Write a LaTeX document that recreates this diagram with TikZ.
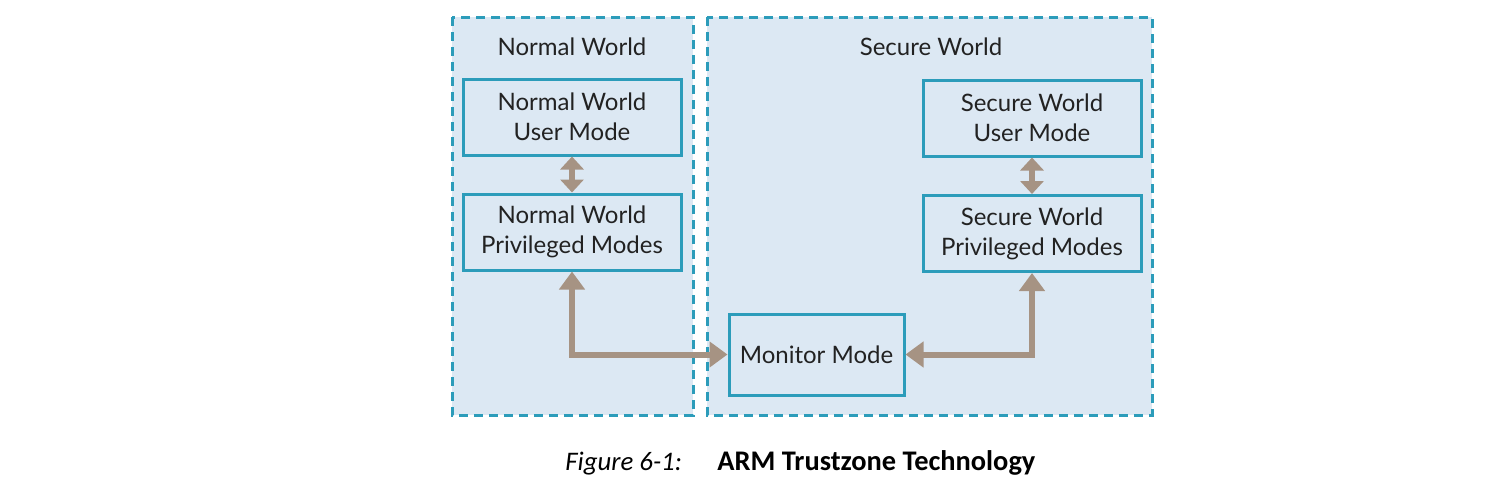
\documentclass[tikz,border=0pt]{standalone}
\usepackage{fontspec}
\setmainfont{Lato}
\newfontfamily\capfont{Carlito}
\usetikzlibrary{arrows.meta}
\definecolor{bgblue}{HTML}{DCE8F3}
\definecolor{teal}{HTML}{2C9CBA}
\definecolor{arrowc}{HTML}{A69383}
\definecolor{txt}{HTML}{222222}
\tikzset{
  world/.style={draw=teal, fill=bgblue, line width=1.5pt, dash pattern=on 4.5pt off 3pt},
  modebox/.style={draw=teal, fill=bgblue, line width=1.5pt, text=txt, align=center,
    font=\fontsize{12}{15}\selectfont, minimum width=109pt, minimum height=38pt, inner sep=0pt},
  worldlabel/.style={text=txt, font=\fontsize{12}{14}\selectfont, inner sep=0pt},
  conn/.style={draw=arrowc, line width=3pt, {Triangle[width=12.5pt,length=9pt]}-{Triangle[width=12.5pt,length=9pt]}},
  shortconn/.style={draw=arrowc, line width=3pt, {Triangle[width=11.5pt,length=6.5pt]}-{Triangle[width=11.5pt,length=6.5pt]}},
}
\begin{document}
\begin{tikzpicture}[x=0.5pt,y=-0.5pt]
\useasboundingbox (0,0) rectangle (1510,487);
\draw[world] (452,17) rectangle (693,415);
\draw[world] (707,17) rectangle (1152,415);
\node[worldlabel] (nwl) at (572,47) {Normal World};
\node[worldlabel] (swl) at (931,47) {Secure World};
\node[modebox] (nwu) at (572,117) {Normal World\\User Mode};
\node[modebox] (nwp) at (572,232) {Normal World\\Privileged Modes};
\node[modebox] (swu) at (1032,118) {Secure World\\User Mode};
\node[modebox] (swp) at (1032,233.5) {Secure World\\Privileged Modes};
\node[modebox, minimum width=87.5pt, minimum height=40.5pt] (mon) at (816.5,354.5) {Monitor Mode};
\draw[shortconn] (nwu) -- (nwp);
\draw[shortconn] (swu) -- (swp);
\draw[conn] (nwp.south) |- (mon.west);
\draw[conn] (mon.east) -| (swp.south);
\node[anchor=base west, inner sep=0pt, font=\capfont\fontsize{13.4}{16}\selectfont] (cap1) at (565,470) {\textit{Figure 6-1:}};
\node[anchor=base west, inner sep=0pt, font=\capfont\fontsize{14.2}{17}\selectfont] (cap2) at (717,470) {\textbf{ARM Trustzone Technology}};
\end{tikzpicture}
\end{document}
